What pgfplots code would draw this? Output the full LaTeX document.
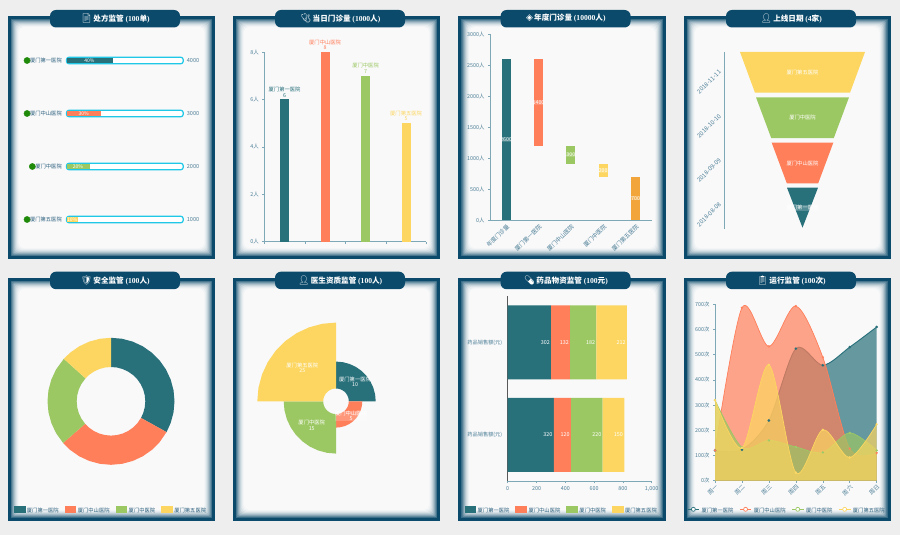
\documentclass[border=0pt]{standalone}
\usepackage{fontspec}
\usepackage{pgfplots}
\usepackage{pgfplotstable}
\pgfplotsset{compat=1.18}
\usepgfplotslibrary{polar}
\setmainfont{Noto Sans CJK SC}
\newfontfamily\serifb{Liberation Serif}
\newfontfamily\emoji{Noto Emoji}
\newfontfamily\dejavu{DejaVu Sans}
\definecolor{pagebg}{HTML}{EEEEEE}
\definecolor{panelbg}{HTML}{FBFBFB}
\definecolor{dk}{HTML}{0B4A6B}
\definecolor{cA}{HTML}{28707A}
\definecolor{cB}{HTML}{FF7F5A}
\definecolor{cC}{HTML}{9CC863}
\definecolor{cD}{HTML}{FCD660}
\definecolor{cE}{HTML}{F2A53A}
\definecolor{tk}{HTML}{4D7F96}
\definecolor{ax}{HTML}{7FA8B6}
\definecolor{track}{HTML}{1EC8E6}
\definecolor{dotg}{HTML}{1F8A0A}
\definecolor{nav}{HTML}{2A5F7C}
\newcommand{\fs}[1]{\fontsize{#1}{#1}\selectfont}
\newcommand{\panel}[7]{%
  \foreach \i in {0,...,11}{%
    \pgfmathsetmacro\p{\i<3?100:100*(1-(\i-2)/10)^2}%
    \pgfmathsetmacro\rc{max(0,(\i-3)*0.7)}%
    \fill[dk!\p!panelbg, rounded corners=\rc pt] (#1+\i,535-#2-\i) rectangle (#3-\i,535-#4+\i);
  }%
  \fill[dk, rounded corners=6pt] (#1+42.3,535-#2+6) rectangle (#1+172.3,535-#2-11.5);
  \node[text=white, inner sep=0pt] at (#1+#7,535-#2-2.5) {{\fs{9}#5}{\fs{7.6}\bfseries #6}};
}
\newcommand{\lat}[1]{{\serifb #1}}
\pgfplotsset{
  panelax/.style={scale only axis, anchor=south west, clip=false,
    tick label style={font=\fs{5.4}, text=tk},
    axis line style={ax, line width=.9pt},
    tick style={ax, line width=.6pt},
    tick align=outside, major tick length=2pt,
    axis x line*=bottom, axis y line*=left},
  bareax/.style={scale only axis, anchor=south west, clip=false, hide axis},
  swatch/.style={legend image code/.code={\fill[#1] (0pt,-1pt) rectangle (10.7pt,5pt);}},
  lineswatch/.style={legend image code/.code={\draw[#1,line width=.7pt] (0pt,2pt) -- (11.7pt,2pt); \draw[#1,line width=.7pt,fill=white] (5.8pt,2pt) circle (2pt);}},
  botlegend/.style={legend columns=4, legend cell align=left,
    legend style={draw=none, fill=none, font=\fs{5.3}, text=nav, inner sep=0pt, outer sep=0pt,
      /tikz/every even column/.append style={column sep=4pt}}},
}
\pgfplotstableread{
x a b c d
0 120 120 320 320
1 123 686 132 130
2 239 533 160 460
3 524 693 134 32
4 458 490 112 202
5 530 127 190 92
6 610 110 120 224
}\weekdata
\begin{document}
\begin{tikzpicture}[x=1pt,y=1pt]
\fill[pagebg] (0,0) rectangle (900,535);
\path[use as bounding box] (0,0) rectangle (900,535);
\panel{7.7}{16}{215.4}{259.3}{\emoji 📄}{\,处方监管 \lat{(100}单\lat{)}}{107.5}
\panel{232.7}{16}{440.4}{259.3}{\emoji 🩺}{\,当日门诊量 \lat{(1000}人\lat{)}}{107.5}
\panel{458.3}{16}{666}{259.3}{\dejavu ◈}{\,年度门诊量 \lat{(10000}人\lat{)}}{107.5}
\panel{683.7}{16}{890.7}{259.3}{\emoji 👤}{\,上线日期 \lat{(4}家\lat{)}}{107.5}
\panel{7.7}{277.7}{215.4}{521}{\emoji 🛡}{\,安全监管 \lat{(100}人\lat{)}}{107.5}
\panel{232.7}{277.7}{440.4}{521}{\emoji 👤}{\,医生资质监管 \lat{(100}人\lat{)}}{107.5}
\panel{458.3}{277.7}{666}{521}{\emoji 💊}{\,药品物资监管 \lat{(100}元\lat{)}}{107.5}
\panel{683.7}{277.7}{890.7}{521}{\emoji 📋}{\,运行监管 \lat{(100}次\lat{)}}{107.5}

% --- panel 1: gauge bars
\begin{axis}[bareax, at={(66.5pt,289pt)}, width=115pt, height=212pt,
  xmin=0, xmax=100, ymin=.5, ymax=4.5]
\addplot[xbar, bar shift=0pt, bar width=6.6pt, draw=track, fill=white, line width=1.2pt, rounded corners=2.5pt]
  coordinates {(101.5,1) (101.5,2) (101.5,3) (101.5,4)};
\addplot[xbar, bar shift=0pt, bar width=4.8pt, draw=none, fill=cA] coordinates {(40,4)};
\addplot[xbar, bar shift=0pt, bar width=4.8pt, draw=none, fill=cB] coordinates {(30,3)};
\addplot[xbar, bar shift=0pt, bar width=4.8pt, draw=none, fill=cC] coordinates {(20,2)};
\addplot[xbar, bar shift=0pt, bar width=4.8pt, draw=none, fill=cD] coordinates {(10,1)};
\addplot[only marks, mark=*, mark size=3.1pt, color=dotg]
  coordinates {(-34.3,4) (-34.3,3) (-29.7,2) (-34.3,1)};
\foreach \y/\n/\v/\w in {4/厦门第一医院/4000/40,3/厦门中山医院/3000/30,2/厦门中医院/2000/20,1/厦门第五医院/1000/10}{
  \edef\tmp{\noexpand\node[anchor=east, inner sep=0pt, font=\noexpand\fs{5.3}, text=nav] at (axis cs:-3.9,\y) {\n};
  \noexpand\node[anchor=west, inner sep=0pt, font=\noexpand\fs{5.6}, text=tk] at (axis cs:104.5,\y) {\v};}
  \tmp
}
\node[inner sep=0pt, font=\fs{5}, text=white] at (axis cs:20,4) {40\%};
\node[inner sep=0pt, font=\fs{5}, text=white] at (axis cs:15,3) {30\%};
\node[inner sep=0pt, font=\fs{5}, text=white] at (axis cs:10,2) {20\%};
\node[inner sep=0pt, font=\fs{5}, text=white] at (axis cs:5,1) {10\%};
\end{axis}

% --- panel 2: bars
\begin{axis}[panelax, at={(264.3pt,293.3pt)}, width=162pt, height=189.7pt,
  xmin=0, xmax=4, ymin=0, ymax=8,
  xtick={0,1,2,3,4}, xticklabels={}, ytick={0,2,4,6,8},
  yticklabels={0人,2人,4人,6人,8人}]
\addplot[ybar, bar shift=0pt, bar width=9pt, draw=none, fill=cA] coordinates {(0.5,6)};
\addplot[ybar, bar shift=0pt, bar width=9pt, draw=none, fill=cB] coordinates {(1.5,8)};
\addplot[ybar, bar shift=0pt, bar width=9pt, draw=none, fill=cC] coordinates {(2.5,7)};
\addplot[ybar, bar shift=0pt, bar width=9pt, draw=none, fill=cD] coordinates {(3.5,5)};
\node[anchor=south, yshift=2pt, align=center, inner sep=0pt, font=\fontsize{5.3}{5.6}\selectfont, text=cA] at (axis cs:0.5,6) {厦门第一医院\\6};
\node[anchor=south, yshift=2pt, align=center, inner sep=0pt, font=\fontsize{5.3}{5.6}\selectfont, text=cB] at (axis cs:1.5,8) {厦门中山医院\\8};
\node[anchor=south, yshift=2pt, align=center, inner sep=0pt, font=\fontsize{5.3}{5.6}\selectfont, text=cC] at (axis cs:2.5,7) {厦门中医院\\7};
\node[anchor=south, yshift=2pt, align=center, inner sep=0pt, font=\fontsize{5.3}{5.6}\selectfont, text=cD] at (axis cs:3.5,5) {厦门第五医院\\5};
\end{axis}

% --- panel 3: waterfall
\begin{axis}[panelax, at={(490pt,315pt)}, width=161.7pt, height=185.7pt,
  xmin=0, xmax=5, ymin=0, ymax=3000,
  ybar stacked, reverse stacked plots=false, bar width=9pt, bar shift=0pt,
  xtick={0.5,1.5,2.5,3.5,4.5},
  xticklabels={年度门诊量,厦门第一医院,厦门中山医院,厦门中医院,厦门第五医院},
  major x tick style={draw=none},
  extra x ticks={0,1,2,3,4,5}, extra x tick labels={},
  extra x tick style={major tick length=2pt, tick style={ax, line width=.6pt}},
  xticklabel style={rotate=45, anchor=north east, inner sep=1pt, font=\fs{5.8}},
  ytick={0,500,1000,1500,2000,2500,3000},
  yticklabels={0人,500人,1000人,1500人,2000人,2500人,3000人}]
\addplot[draw=none, fill=none] coordinates {(0.5,0) (1.5,1200) (2.5,900) (3.5,700) (4.5,0)};
\addplot[draw=none, fill=cA] coordinates {(0.5,2600) (1.5,0) (2.5,0) (3.5,0) (4.5,0)};
\addplot[draw=none, fill=cB] coordinates {(0.5,0) (1.5,1400) (2.5,0) (3.5,0) (4.5,0)};
\addplot[draw=none, fill=cC] coordinates {(0.5,0) (1.5,0) (2.5,300) (3.5,0) (4.5,0)};
\addplot[draw=none, fill=cD] coordinates {(0.5,0) (1.5,0) (2.5,0) (3.5,200) (4.5,0)};
\addplot[draw=none, fill=cE] coordinates {(0.5,0) (1.5,0) (2.5,0) (3.5,0) (4.5,700)};
\foreach \x/\y/\t in {0.5/1300/2600,1.5/1900/1400,2.5/1050/300,3.5/800/200,4.5/350/700}{
  \edef\tmp{\noexpand\node[inner sep=.2pt, font=\noexpand\fs{5.3}, text=white, fill=white, fill opacity=.15, text opacity=1] at (axis cs:\x,\y) {\t};}
  \tmp
}
\end{axis}

% --- panel 4: funnel
\begin{axis}[panelax, at={(724.7pt,306pt)}, width=155.3pt, height=177pt,
  xmin=-77.8, xmax=77.5, ymin=0, ymax=4,
  axis x line=none, axis y line*=left,
  ytick={0.5,1.5,2.5,3.5},
  yticklabels={2018-08-08,2018-09-09,2018-10-10,2018-11-11},
  major y tick style={draw=none},
  yticklabel style={xshift=-2pt, yshift=4pt, rotate=45, anchor=east, inner sep=1pt, font=\fs{6}},
  extra y ticks={0,1,2,3,4}, extra y tick labels={},
  extra y tick style={major tick length=2.5pt, tick style={ax, line width=.6pt}}]
\addplot[fill=cD, draw=none] coordinates {(-62.5,4) (62.5,4) (47.5,3.08) (-47.5,3.08)};
\addplot[fill=cC, draw=none] coordinates {(-46.5,2.976) (46.5,2.976) (31.3,2.056) (-31.3,2.056)};
\addplot[fill=cB, draw=none] coordinates {(-30.8,1.95) (30.8,1.95) (15.7,1.033) (-15.7,1.033)};
\addplot[fill=cA, draw=none] coordinates {(-15.5,0.933) (15.5,0.933) (0,0.03)};
\node[inner sep=0pt, font=\fs{5.3}, text=white] at (axis cs:0,3.54) {厦门第五医院};
\node[inner sep=0pt, font=\fs{5.3}, text=white] at (axis cs:0,2.515) {厦门中医院};
\node[inner sep=0pt, font=\fs{5.3}, text=white] at (axis cs:0,1.49) {厦门中山医院};
\node[inner sep=.4pt, font=\fs{5.3}, text=white, fill=white, fill opacity=.2, text opacity=1] at (axis cs:0,0.48) {厦门第一医院};
\end{axis}

% --- panel 5: donut
\begin{axis}[bareax, at={(11pt,33.7pt)}, width=200pt, height=200pt,
  xmin=-100, xmax=100, ymin=-100, ymax=100, botlegend,
  legend style={at={(axis description cs:0.5,-0.0485)}, anchor=center}]
\addplot[forget plot, data cs=polar, fill=cA, draw=none] coordinates {
 (90,63.5)(80,63.5)(70,63.5)(60,63.5)(50,63.5)(40,63.5)(30,63.5)(20,63.5)(10,63.5)(0,63.5)(-10,63.5)(-20,63.5)(-29,63.5)
 (-29,34.3)(-20,34.3)(-10,34.3)(0,34.3)(10,34.3)(20,34.3)(30,34.3)(40,34.3)(50,34.3)(60,34.3)(70,34.3)(80,34.3)(90,34.3)};
\addplot[forget plot, data cs=polar, fill=cB, draw=none] coordinates {
 (-29,63.5)(-40,63.5)(-50,63.5)(-60,63.5)(-70,63.5)(-80,63.5)(-90,63.5)(-100,63.5)(-110,63.5)(-120,63.5)(-130,63.5)(-139,63.5)
 (-139,34.3)(-130,34.3)(-120,34.3)(-110,34.3)(-100,34.3)(-90,34.3)(-80,34.3)(-70,34.3)(-60,34.3)(-50,34.3)(-40,34.3)(-29,34.3)};
\addplot[forget plot, data cs=polar, fill=cC, draw=none] coordinates {
 (-139,63.5)(-150,63.5)(-160,63.5)(-170,63.5)(-180,63.5)(-190,63.5)(-200,63.5)(-210,63.5)(-222,63.5)
 (-222,34.3)(-210,34.3)(-200,34.3)(-190,34.3)(-180,34.3)(-170,34.3)(-160,34.3)(-150,34.3)(-139,34.3)};
\addplot[forget plot, data cs=polar, fill=cD, draw=none] coordinates {
 (-222,63.5)(-230,63.5)(-240,63.5)(-250,63.5)(-260,63.5)(-270,63.5)
 (-270,34.3)(-260,34.3)(-250,34.3)(-240,34.3)(-230,34.3)(-222,34.3)};
\addlegendimage{swatch=cA}\addlegendentry{厦门第一医院}
\addlegendimage{swatch=cB}\addlegendentry{厦门中山医院}
\addlegendimage{swatch=cC}\addlegendentry{厦门中医院}
\addlegendimage{swatch=cD}\addlegendentry{厦门第五医院}
\end{axis}

% --- panel 6: rose
\begin{axis}[bareax, at={(246pt,43.7pt)}, width=180pt, height=180pt,
  xmin=-90, xmax=90, ymin=-90, ymax=90]
\addplot[data cs=polar, fill=cA, draw=none] coordinates {
 (90,39.7)(80,39.7)(70,39.7)(60,39.7)(50,39.7)(40,39.7)(30,39.7)(20,39.7)(10,39.7)(0,39.7)
 (0,12.8)(10,12.8)(20,12.8)(30,12.8)(40,12.8)(50,12.8)(60,12.8)(70,12.8)(80,12.8)(90,12.8)};
\addplot[data cs=polar, fill=cB, draw=none] coordinates {
 (0,26.3)(-10,26.3)(-20,26.3)(-30,26.3)(-40,26.3)(-50,26.3)(-60,26.3)(-70,26.3)(-80,26.3)(-90,26.3)
 (-90,12.8)(-80,12.8)(-70,12.8)(-60,12.8)(-50,12.8)(-40,12.8)(-30,12.8)(-20,12.8)(-10,12.8)(0,12.8)};
\addplot[data cs=polar, fill=cC, draw=none] coordinates {
 (-90,52.3)(-100,52.3)(-110,52.3)(-120,52.3)(-130,52.3)(-140,52.3)(-150,52.3)(-160,52.3)(-170,52.3)(-180,52.3)
 (-180,12.8)(-170,12.8)(-160,12.8)(-150,12.8)(-140,12.8)(-130,12.8)(-120,12.8)(-110,12.8)(-100,12.8)(-90,12.8)};
\addplot[data cs=polar, fill=cD, draw=none] coordinates {
 (180,78.7)(170,78.7)(160,78.7)(150,78.7)(140,78.7)(130,78.7)(120,78.7)(110,78.7)(100,78.7)(90,78.7)
 (90,12.8)(100,12.8)(110,12.8)(120,12.8)(130,12.8)(140,12.8)(150,12.8)(160,12.8)(170,12.8)(180,12.8)};
\node[align=center, inner sep=0pt, font=\fontsize{5.3}{5.5}\selectfont, text=white] at (axis cs:19,19.5) {厦门第一医院\\10};
\node[align=center, inner sep=.3pt, font=\fontsize{5.3}{4.8}\selectfont, text=white, fill=white, fill opacity=.2, text opacity=1] at (axis cs:15,-14.7) {厦门中山医院\\5};
\node[align=center, inner sep=0pt, font=\fontsize{5.3}{5.5}\selectfont, text=white] at (axis cs:-24.3,-24) {厦门中医院\\15};
\node[align=center, inner sep=0pt, font=\fontsize{5.3}{5.5}\selectfont, text=white] at (axis cs:-33.7,33.3) {厦门第五医院\\25};
\end{axis}

% --- panel 7: stacked horizontal bars
\begin{axis}[panelax, at={(507.7pt,53.7pt)}, width=144pt, height=185.3pt,
  xmin=0, xmax=1000, ymin=0, ymax=2,
  xbar stacked, reverse stacked plots=false, bar width=74pt, bar shift=0pt,
  xtick={0,200,400,600,800,1000}, xticklabels={0,200,400,600,800,{1,000}},
  ytick={0.5,1.5}, yticklabels={药品销售额(元),药品销售额(元)},
  major y tick style={draw=none},
  y axis line style={draw=black!65, line width=.8pt},
  extra y ticks={0,1,2}, extra y tick labels={},
  extra y tick style={major tick length=2pt, tick style={black!65, line width=.6pt}},
  yticklabel style={xshift=0pt, font=\fs{5.2}},
  botlegend, legend style={at={(axis description cs:0.375,-0.16)}, anchor=center}]
\addplot[forget plot, draw=none, fill=cA] coordinates {(320,0.5) (302,1.5)};
\addplot[forget plot, draw=none, fill=cB] coordinates {(120,0.5) (132,1.5)};
\addplot[forget plot, draw=none, fill=cC] coordinates {(220,0.5) (182,1.5)};
\addplot[forget plot, draw=none, fill=cD] coordinates {(150,0.5) (212,1.5)};
\foreach \x/\y/\t in {302/1.5/302,434/1.5/132,616/1.5/182,828/1.5/212,320/0.5/320,440/0.5/120,660/0.5/220,810/0.5/150}{
  \edef\tmp{\noexpand\node[anchor=east, xshift=-1.2pt, inner sep=0pt, font=\noexpand\fs{5.4}, text=white] at (axis cs:\x,\y) {\t};}
  \tmp
}
\addlegendimage{swatch=cA}\addlegendentry{厦门第一医院}
\addlegendimage{swatch=cB}\addlegendentry{厦门中山医院}
\addlegendimage{swatch=cC}\addlegendentry{厦门中医院}
\addlegendimage{swatch=cD}\addlegendentry{厦门第五医院}
\end{axis}

% --- panel 8: smooth areas
\begin{axis}[panelax, at={(715pt,54.3pt)}, width=161.7pt, height=176.4pt,
  xmin=0, xmax=6, ymin=0, ymax=700,
  xtick={0,1,2,3,4,5,6}, xticklabels={周一,周二,周三,周四,周五,周六,周日},
  xticklabel style={rotate=45, anchor=north east, inner sep=1pt, font=\fs{5.8}},
  ytick={0,100,200,300,400,500,600,700},
  yticklabels={0次,100次,200次,300次,400次,500次,600次,700次},
  botlegend, legend style={at={(axis description cs:0.445,-0.1735)}, anchor=center}]
\addplot[forget plot, smooth, tension=.5, draw=none, fill=cA, fill opacity=.7] table[x=x,y=a] {\weekdata} \closedcycle;
\addplot[forget plot, smooth, tension=.5, color=cA, line width=.9pt, mark=*, mark size=.8pt] table[x=x,y=a] {\weekdata};
\addplot[forget plot, smooth, tension=.5, draw=none, fill=cB, fill opacity=.7] table[x=x,y=b] {\weekdata} \closedcycle;
\addplot[forget plot, smooth, tension=.5, color=cB, line width=.7pt, mark=*, mark size=.8pt, mark options={fill=white}] table[x=x,y=b] {\weekdata};
\addplot[forget plot, smooth, tension=.5, draw=none, fill=cC, fill opacity=.7] table[x=x,y=c] {\weekdata} \closedcycle;
\addplot[forget plot, smooth, tension=.5, color=cC, line width=.7pt, mark=*, mark size=.8pt, mark options={fill=white}] table[x=x,y=c] {\weekdata};
\addplot[forget plot, smooth, tension=.5, draw=none, fill=cD, fill opacity=.7] table[x=x,y=d] {\weekdata} \closedcycle;
\addplot[forget plot, smooth, tension=.5, color=cD, line width=.7pt, mark=*, mark size=.8pt, mark options={fill=white}] table[x=x,y=d] {\weekdata};
\addlegendimage{lineswatch=cA}\addlegendentry{厦门第一医院}
\addlegendimage{lineswatch=cB}\addlegendentry{厦门中山医院}
\addlegendimage{lineswatch=cC}\addlegendentry{厦门中医院}
\addlegendimage{lineswatch=cD}\addlegendentry{厦门第五医院}
\end{axis}
\end{tikzpicture}
\end{document}
